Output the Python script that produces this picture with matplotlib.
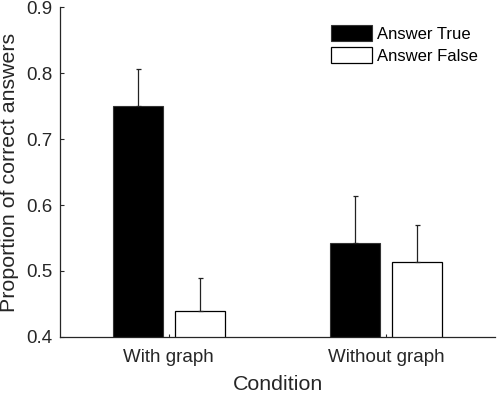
import numpy as np
import matplotlib.pyplot as plt

plt.rcParams['font.family'] = ['Liberation Sans', 'DejaVu Sans']

conditions = ["With graph", "Without graph"]
answer_true = [0.75, 0.542]
answer_false = [0.44, 0.513]
err_true = [0.056, 0.072]
err_false = [0.050, 0.056]

fig = plt.figure(figsize=(4.98, 3.96), dpi=100)
ax = fig.add_axes([0.1205, 0.149, 0.8735, 0.8333])

x = np.arange(1, len(conditions) + 1)
w = 0.23
off = 0.143
ax.bar(x - off, answer_true, w, color='black', edgecolor='#333333',
       linewidth=0.8, label='Answer True')
ax.bar(x + off, answer_false, w, color='white', edgecolor='black',
       linewidth=0.9, label='Answer False')
ax.errorbar(x - off, answer_true, yerr=[np.zeros(2), err_true], fmt='none',
            ecolor='#222222', elinewidth=0.9, capsize=1.8, capthick=0.9)
ax.errorbar(x + off, answer_false, yerr=[np.zeros(2), err_false], fmt='none',
            ecolor='#222222', elinewidth=0.9, capsize=1.8, capthick=0.9)

ax.set_xlim(0.5, 2.5)
ax.set_ylim(0.4, 0.9)
ax.set_yticks([0.4, 0.5, 0.6, 0.7, 0.8, 0.9])
ax.set_xticks(x)
ax.set_xticklabels(conditions)
ax.tick_params(axis='both', direction='in', length=3, width=0.8,
               colors='#262626', labelsize=13.5)
ax.tick_params(axis='x', length=2, pad=9)
ax.tick_params(axis='y', pad=5.5)
ax.set_xlabel("Condition", fontsize=15.4, color='#262626', labelpad=6)
ax.set_ylabel("Proportion of correct answers", fontsize=15.4, color='#262626', labelpad=5)

for s in ['top', 'right']:
    ax.spines[s].set_visible(False)
for s in ['left', 'bottom']:
    ax.spines[s].set_color('#262626')
    ax.spines[s].set_linewidth(0.9)

ax.legend(loc='upper right', bbox_to_anchor=(0.975, 0.965), frameon=False,
          fontsize=12, handlelength=2.5, handleheight=1.1, handletextpad=0.25,
          labelspacing=0.3, borderaxespad=0)

fig.savefig("out.png", dpi=100)
